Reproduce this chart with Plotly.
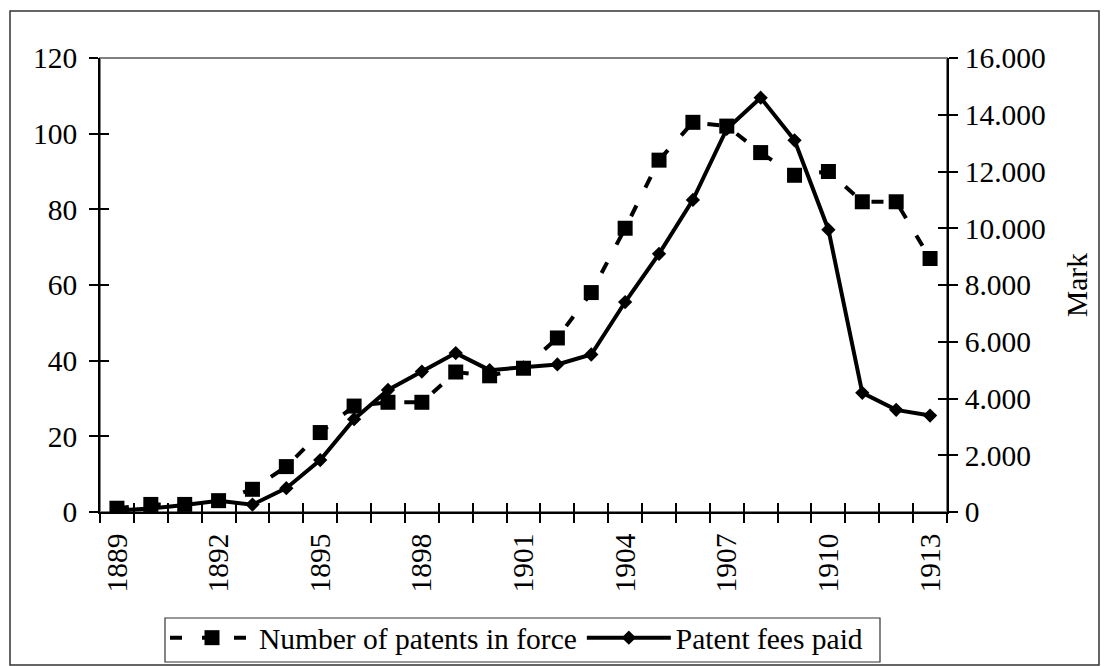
import plotly.graph_objects as go

years = list(range(1889, 1914))
patents_in_force = [1, 2, 2, 3, 6, 12, 21, 28, 29, 29, 37, 36, 38, 46, 58, 75, 93, 103, 102, 95, 89, 90, 82, 82, 67]
fees_paid_mark = [50, 120, 250, 400, 260, 840, 1830, 3270, 4300, 4950, 5600, 5000, 5100, 5200, 5550,
                  7400, 9100, 11000, 13500, 14600, 13100, 9950, 4200, 3600, 3400]
label_years = [1889, 1892, 1895, 1898, 1901, 1904, 1907, 1910, 1913]
left_ticks = [0, 20, 40, 60, 80, 100, 120]
right_ticks = [0, 2000, 4000, 6000, 8000, 10000, 12000, 14000, 16000]

FONT = "Liberation Serif, Times New Roman, serif"
FS = 29.5
LFS = 29.5
OFF = 8  # browser default body margin
W, H = 1109 - OFF, 666 - OFF
L, R, T, B = 100 - OFF, 947 - OFF, 58 - OFF, 512 - OFF
xr = [1888.5, 1913.5]


def px_x(sx):
    return (sx - OFF - L) / (R - L)


def px_y(sy):
    return (B - (sy - OFF)) / (B - T)


fig = go.Figure()
fig.add_trace(go.Scatter(
    x=years, y=patents_in_force, name="Number of patents in force",
    mode="lines+markers", xaxis="x", yaxis="y",
    line=dict(color="black", width=4, dash="12px,20px"),
    marker=dict(symbol="square", size=15, color="black"),
))
fig.add_trace(go.Scatter(
    x=years, y=fees_paid_mark, name="Patent fees paid",
    mode="lines+markers", xaxis="x", yaxis="y2",
    line=dict(color="black", width=4),
    marker=dict(symbol="diamond", size=11, color="black"),
))
# invisible helper traces for the inward half of the cross tick marks
fig.add_trace(go.Scatter(x=[None], y=[None], xaxis="x2", yaxis="y3", showlegend=False, hoverinfo="skip"))
fig.add_trace(go.Scatter(x=[None], y=[None], xaxis="x2", yaxis="y4", showlegend=False, hoverinfo="skip"))

axis_common = dict(showgrid=False, zeroline=False, linecolor="black", linewidth=1.5,
                   tickcolor="black", tickwidth=1.5, ticklen=9, automargin=False,
                   tickfont=dict(family=FONT, size=FS, color="black"))
inner_common = dict(showgrid=False, zeroline=False, showline=False, showticklabels=False,
                    ticks="inside", ticklen=9, tickwidth=1.5, tickcolor="black",
                    automargin=False)

fig.update_layout(
    template="none",
    width=W, height=H,
    margin=dict(l=L, r=W - R, t=T, b=H - B, pad=0, autoexpand=False),
    paper_bgcolor="white", plot_bgcolor="white",
    separators=",.",
    font=dict(family=FONT, size=FS, color="black"),
    showlegend=True,
    xaxis=dict(**axis_common, range=xr, tickmode="array", tickvals=label_years,
               ticktext=[str(y) for y in label_years], ticks="", showline=True,
               tickangle=-90, ticklabelstandoff=8,
               minor=dict(tick0=1888.5, dtick=1, ticks="outside", ticklen=9,
                          tickwidth=1.5, tickcolor="black", showgrid=False)),
    xaxis2=dict(**inner_common, range=xr, overlaying="x", anchor="y", side="bottom",
                tickmode="linear", tick0=1888.5, dtick=1),
    yaxis=dict(**axis_common, range=[0, 120], tickmode="array", tickvals=left_ticks,
               ticks="outside", showline=True, ticklabelstandoff=6),
    yaxis2=dict(**axis_common, range=[0, 16000], tickmode="array", tickvals=right_ticks,
                tickformat=",d", ticks="outside", showline=True, side="right",
                overlaying="y", anchor="x", ticklabelstandoff=1,
                title=dict(text="Mark", font=dict(family=FONT, size=FS, color="black"),
                           standoff=22)),
    yaxis3=dict(**inner_common, range=[0, 120], overlaying="y", anchor="x", side="left",
                tickmode="array", tickvals=left_ticks),
    yaxis4=dict(**inner_common, range=[0, 16000], overlaying="y", anchor="x", side="right",
                tickmode="array", tickvals=right_ticks),
    legend=dict(orientation="h", x=px_x(165), xanchor="left",
                y=px_y(612), yanchor="top",
                borderwidth=0, bgcolor="rgba(0,0,0,0)",
                font=dict(family=FONT, size=LFS, color="black"),
                itemwidth=84, tracegroupgap=0),
    shapes=[
        # gray plot-area border (visible along the top)
        dict(type="rect", xref="paper", yref="paper", x0=0, x1=1, y0=0, y1=1,
             line=dict(color="#808080", width=2), layer="below"),
        # outer chart border
        dict(type="rect", xref="paper", yref="paper",
             x0=px_x(10), x1=px_x(1099), y0=px_y(665), y1=px_y(11),
             line=dict(color="#333333", width=1.5), layer="below"),
        # legend frame
        dict(type="rect", xref="paper", yref="paper",
             x0=px_x(165), x1=px_x(880), y0=px_y(662), y1=px_y(618),
             line=dict(color="#333333", width=1.2), fillcolor="white", layer="below"),
    ],
)

fig.write_html("out.html")
